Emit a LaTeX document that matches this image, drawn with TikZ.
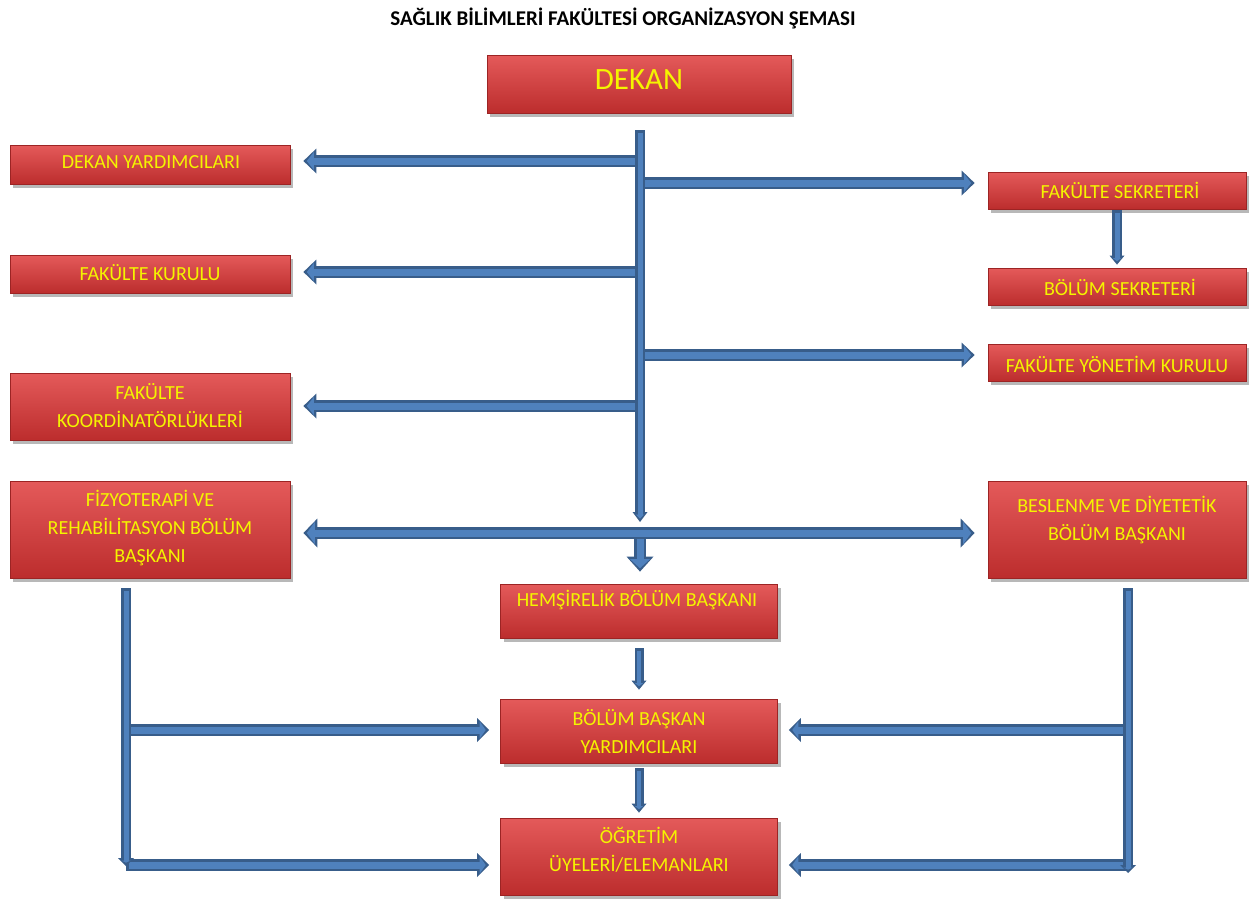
\documentclass[tikz,border=0pt]{standalone}
\usepackage{fontspec}
\setmainfont{Carlito}
\usetikzlibrary{arrows.meta,shadows}
\definecolor{afill}{HTML}{4F81BD}
\definecolor{aline}{HTML}{385D8A}
\definecolor{btop}{HTML}{E45A5A}
\definecolor{bbot}{HTML}{BC2D2D}
\definecolor{bdraw}{HTML}{9C2424}
\definecolor{txtyel}{HTML}{F4F400}
\tikzset{
  box/.style={rectangle, draw=bdraw, line width=0.8pt, top color=btop, bottom color=bbot, inner sep=0pt,
    drop shadow={shadow xshift=3pt, shadow yshift=-3.5pt, fill=black, opacity=0.28}},
  lbl/.style={text=txtyel, font=\fontsize{20}{28}\selectfont, align=center, inner sep=0pt},
  bigl/.style={text=txtyel, font=\fontsize{31}{34}\selectfont, inner sep=0pt},
  ttl/.style={text=black, font=\bfseries\fontsize{21}{24}\selectfont, inner sep=0pt},
  outer/.style={draw=aline},
  inner/.style={draw=afill}
}
% #1 shaft, #2 head width, #3 head length, #4 shorten end, #5 shorten start, #6 path
\newcommand\barr[6]{%
  \pgfmathsetmacro\iw{#1-5}\pgfmathsetmacro\ihw{#2-7}\pgfmathsetmacro\ihl{#3-6}%
  \pgfmathsetmacro\ish{#4+3.4}\pgfmathsetmacro\iss{#5+2.5}%
  \draw[outer, line width=#1pt, -{Triangle[length=#3pt,width=#2pt,line width=0pt]}, shorten >=#4pt, shorten <=#5pt] #6;
  \draw[inner, line width=\iw pt, -{Triangle[length=\ihl pt,width=\ihw pt,line width=0pt]}, shorten >=\ish pt, shorten <=\iss pt] #6;}
\newcommand\barrd[5]{%
  \pgfmathsetmacro\iw{#1-5}\pgfmathsetmacro\ihw{#2-7}\pgfmathsetmacro\ihl{#3-6}%
  \pgfmathsetmacro\ish{#4+3.4}%
  \draw[outer, line width=#1pt, {Triangle[length=#3pt,width=#2pt,line width=0pt]}-{Triangle[length=#3pt,width=#2pt,line width=0pt]}, shorten >=#4pt, shorten <=#4pt] #5;
  \draw[inner, line width=\iw pt, {Triangle[length=\ihl pt,width=\ihw pt,line width=0pt]}-{Triangle[length=\ihl pt,width=\ihw pt,line width=0pt]}, shorten >=\ish pt, shorten <=\ish pt] #5;}
\begin{document}
\begin{tikzpicture}[x=1pt,y=-1pt]
\useasboundingbox[fill=white] (0,0) rectangle (1250,900);

\node[ttl] (title) at (623,18) {SAĞLIK BİLİMLERİ FAKÜLTESİ ORGANİZASYON ŞEMASI};

% boxes
\node[box, minimum width=304pt, minimum height=58pt] (dekan) at (639,84) {};
\node[box, minimum width=280pt, minimum height=39pt] (dy) at (150,164.5) {};
\node[box, minimum width=280pt, minimum height=38pt] (fk) at (150,274) {};
\node[box, minimum width=280pt, minimum height=67pt] (koord) at (150,406.5) {};
\node[box, minimum width=280pt, minimum height=97pt] (fiz) at (150,529.5) {};
\node[box, minimum width=258pt, minimum height=37pt] (fs) at (1117,190.5) {};
\node[box, minimum width=258pt, minimum height=37pt] (bs) at (1117,286.5) {};
\node[box, minimum width=258pt, minimum height=37pt] (fyk) at (1117,362.5) {};
\node[box, minimum width=258pt, minimum height=97pt] (bes) at (1117,529.5) {};
\node[box, minimum width=277pt, minimum height=54pt] (hem) at (639,611) {};
\node[box, minimum width=277pt, minimum height=64pt] (bby) at (639,731) {};
\node[box, minimum width=277pt, minimum height=77pt] (ogr) at (639,856.5) {};

% labels
\node[bigl] (dekanT) at (639,80) {DEKAN};
\node[lbl] (dyT) at (151,162) {DEKAN YARDIMCILARI};
\node[lbl] (fkT) at (150,273) {FAKÜLTE KURULU};
\node[lbl] (koordT) at (150,406) {FAKÜLTE\\KOORDİNATÖRLÜKLERİ};
\node[lbl] (fizT) at (150,528) {FİZYOTERAPİ VE\\REHABİLİTASYON BÖLÜM\\BAŞKANI};
\node[lbl] (fsT) at (1120,190) {FAKÜLTE SEKRETERİ};
\node[lbl] (bsT) at (1120,287) {BÖLÜM SEKRETERİ};
\node[lbl] (fykT) at (1117,364) {FAKÜLTE YÖNETİM KURULU};
\node[lbl] (besT) at (1117,520) {BESLENME VE DİYETETİK\\BÖLÜM BAŞKANI};
\node[lbl] (hemT) at (637,600) {HEMŞİRELİK BÖLÜM BAŞKANI};
\node[lbl] (bbyT) at (639,732) {BÖLÜM BAŞKAN\\YARDIMCILARI};
\node[lbl] (ogrT) at (639,850) {ÖĞRETİM\\ÜYELERİ/ELEMANLARI};

% junction coordinates
\coordinate (jtop) at (640,130);
\coordinate (jmain) at (640,522);
\coordinate (jdy) at (640,161);
\coordinate (jfs) at (640,183);
\coordinate (jfk) at (640,272);
\coordinate (jfyk) at (640,355);
\coordinate (jko) at (640,406);
\coordinate (jd) at (640,533);
\coordinate (lv1) at (126,588);
\coordinate (lv2) at (126,866);
\coordinate (lb1) at (126,730);
\coordinate (lb2) at (126,865);
\coordinate (rv1) at (1128,588);
\coordinate (rv2) at (1128,873);
\coordinate (rb1) at (1128,730);
\coordinate (rb2) at (1128,865);

% branches from the main line
\barr{12}{25}{13}{13}{0}{(jdy) -- (jdy -| dy.east)}
\barr{12}{25}{13}{13}{0}{(jfk) -- (jfk -| fk.east)}
\barr{12}{25}{13}{13}{0}{(jko) -- (jko -| koord.east)}
\barr{12}{25}{13}{13}{0}{(jfs) -- (jfs -| fs.west)}
\barr{12}{25}{13}{13}{0}{(jfyk) -- (jfyk -| fyk.west)}
% main vertical
\barr{10}{15}{10}{0}{0}{(jtop) -- (jmain)}
% down to hemsirelik
\barr{12}{27}{15}{12}{0}{(jd) -- (jd |- hem.north)}
% double arrow
\barrd{12}{29}{14}{13}{(jd -| fiz.east) -- (jd -| bes.west)}
% small verticals
\barr{9}{15}{9}{9}{10}{(hem.south) -- (bby.north)}
\barr{9}{15}{9}{5}{5}{(bby.south) -- (ogr.north)}
\barr{10}{15}{9}{3}{1}{(fs.south) -- (bs.north)}
% left side
\barr{12}{24}{12}{11}{0}{(lb1) -- (lb1 -| bby.west)}
\barr{12}{24}{12}{11}{0}{(lb2) -- (lb2 -| ogr.west)}
\barr{10}{16}{8}{0}{0}{(lv1) -- (lv2)}
% right side
\barr{12}{24}{12}{11}{0}{(rb1) -- (rb1 -| bby.east)}
\barr{12}{24}{12}{11}{0}{(rb2) -- (rb2 -| ogr.east)}
\barr{10}{16}{8}{0}{0}{(rv1) -- (rv2)}
\end{tikzpicture}
\end{document}
